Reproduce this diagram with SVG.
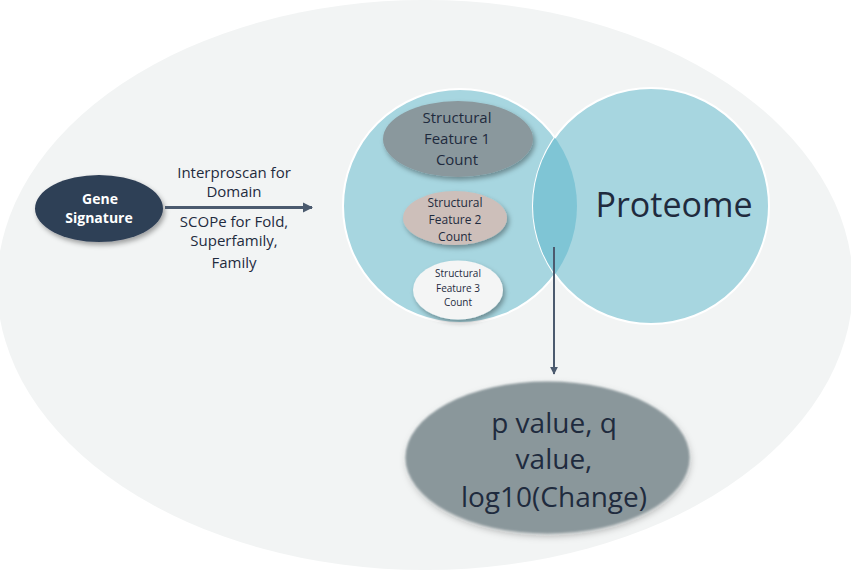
<svg xmlns="http://www.w3.org/2000/svg" width="851" height="571" viewBox="0 0 851 571">
  <style>
    text { font-family: "Open Sans", "Noto Sans", "Liberation Sans", sans-serif; fill: #1f2b3e; text-anchor: middle; }
    .venn { fill: #a7d6e0; stroke: #ffffff; stroke-width: 2; }
    .lbl { font-size: 15px; }
    .white { fill: #ffffff; font-weight: bold; font-size: 14px; }
    .conn { stroke: #4b5a6e; fill: none; }
  </style>
  <defs>
    <filter id="shadow" x="-20%" y="-20%" width="150%" height="160%">
      <feDropShadow dx="2" dy="3" stdDeviation="2.5" flood-color="#000000" flood-opacity="0.35"/>
    </filter>
    <filter id="soft" x="-10%" y="-10%" width="120%" height="130%">
      <feGaussianBlur in="SourceGraphic" stdDeviation="1.2" result="b"/>
      <feDropShadow in="b" dx="1" dy="3" stdDeviation="3" flood-color="#000000" flood-opacity="0.25"/>
    </filter>
    <clipPath id="rightClip">
      <circle cx="651" cy="206" r="118"/>
    </clipPath>
    <marker id="arrowH" viewBox="0 0 10 10" refX="9" refY="5" markerWidth="3.4" markerHeight="3.4" orient="auto" markerUnits="strokeWidth">
      <path d="M0,0 L10,5 L0,10 z" fill="#4b5a6e"/>
    </marker>
    <marker id="arrowV" viewBox="0 0 10 10" refX="9" refY="5" markerWidth="4" markerHeight="4" orient="auto" markerUnits="strokeWidth">
      <path d="M0,0 L10,5 L0,10 z" fill="#4b5a6e"/>
    </marker>
  </defs>

  <g id="background">
    <ellipse cx="425" cy="285" rx="428" ry="285" fill="#f2f4f4"/>
  </g>

  <g id="venn-left">
    <circle class="venn" cx="460" cy="206" r="117"/>
  </g>
  <g id="proteome">
    <circle class="venn" cx="651" cy="206" r="118"/>
    <circle cx="460" cy="206" r="117" fill="#7fc5d5" clip-path="url(#rightClip)"/>
    <text x="674" y="217" font-size="34">Proteome</text>
  </g>

  <g id="gene-signature">
    <ellipse cx="99" cy="208.5" rx="64" ry="33.5" fill="#2f3f56" filter="url(#shadow)"/>
    <text class="white" x="100" y="204">Gene</text>
    <text class="white" x="99" y="223">Signature</text>
  </g>

  <g id="feature1">
    <ellipse cx="458" cy="139" rx="75" ry="38" fill="#8a989d" filter="url(#shadow)"/>
    <text x="457" y="123" font-size="15">Structural</text>
    <text x="457" y="144" font-size="15">Feature 1</text>
    <text x="457" y="165" font-size="15">Count</text>
  </g>

  <g id="feature2">
    <ellipse cx="455" cy="218" rx="52" ry="27" fill="#cdbfba" filter="url(#shadow)"/>
    <text x="455" y="207" font-size="12">Structural</text>
    <text x="455" y="223.5" font-size="12">Feature 2</text>
    <text x="455" y="241" font-size="12">Count</text>
  </g>

  <g id="feature3">
    <ellipse cx="458" cy="290" rx="45" ry="29.5" fill="#f4f5f5" filter="url(#shadow)"/>
    <text x="458" y="277" font-size="10">Structural</text>
    <text x="458" y="292" font-size="10">Feature 3</text>
    <text x="458" y="305.5" font-size="10">Count</text>
  </g>

  <g id="result">
    <ellipse cx="547.5" cy="457.5" rx="142" ry="76" fill="#8a979b" filter="url(#soft)"/>
    <text x="554" y="433" font-size="28">p value, q</text>
    <text x="554" y="469" font-size="28">value,</text>
    <text x="554" y="507" font-size="28">log10(Change)</text>
  </g>

  <g id="connectors">
    <line class="conn" x1="165" y1="207.5" x2="312" y2="207.5" stroke-width="3" marker-end="url(#arrowH)"/>
    <line class="conn" x1="554" y1="247" x2="554" y2="374" stroke-width="2" marker-end="url(#arrowV)"/>
    <text class="lbl" x="234" y="178">Interproscan for</text>
    <text class="lbl" x="234" y="197">Domain</text>
    <text class="lbl" x="234" y="227">SCOPe for Fold,</text>
    <text class="lbl" x="234" y="246">Superfamily,</text>
    <text class="lbl" x="234" y="268">Family</text>
  </g>
</svg>
